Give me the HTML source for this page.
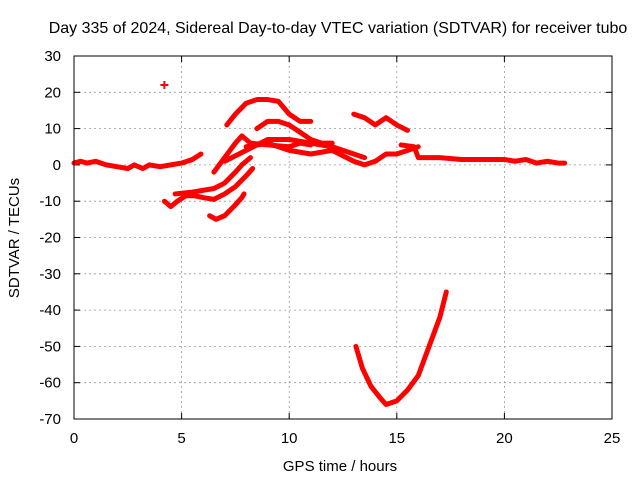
<!DOCTYPE html>
<html><head><meta charset="utf-8"><style>body{margin:0;background:#fff}svg{display:block}text{font-family:"Liberation Sans",sans-serif;font-size:15px;fill:#000}</style></head>
<body>
<svg id="chart" width="640" height="480" xmlns="http://www.w3.org/2000/svg">
<text x="338" y="33" text-anchor="middle" style="font-size:16px">Day 335 of 2024, Sidereal Day-to-day VTEC variation (SDTVAR) for receiver tubo</text>
<text x="340" y="471" text-anchor="middle">GPS time / hours</text>
<text transform="translate(19,238) rotate(-90)" text-anchor="middle">SDTVAR / TECUs</text>
<g id="grid"></g><g id="ticks"></g><g id="marks"></g>
<rect x="74" y="56" width="538" height="363" fill="none" stroke="#000"/>
</svg>
<script>
const xTicks=[0,5,10,15,20,25];
const yTicks=[30,20,10,0,-10,-20,-30,-40,-50,-60,-70];
const seg1=[[0,0.5],[0.3,1],[0.6,0.5],[1,1],[1.5,0],[2,-0.5],[2.5,-1],[2.8,0],[3.2,-1],[3.5,0],[4,-0.5],[4.5,0],[5,0.5],[5.5,1.5],[5.9,3]];
const seg2=[[4.2,-10],[4.5,-11.5],[4.8,-10],[5.2,-8.5],[5.6,-8.5],[6,-9],[6.5,-9.5],[7,-8],[7.5,-6],[8,-3],[8.3,-1]];
const seg3=[[4.7,-8],[5.5,-7.5],[6.5,-6.5],[7,-5],[7.5,-2],[7.8,0],[8.2,2]];
const seg4=[[6.3,-14],[6.6,-15],[7,-14],[7.5,-11],[7.8,-9],[7.9,-8]];
const seg5=[[6.5,-2],[7,2],[7.5,6],[7.8,8],[8.2,6],[9,5.5],[10,5],[10.5,6],[11,5.5]];
const seg6=[[7.1,11],[7.5,14],[8,17],[8.5,18],[9,18],[9.5,17.5],[10,14],[10.5,12],[11,12]];
const seg7=[[8.5,10],[9,12],[9.5,12],[10,11],[10.5,9],[11,7],[11.5,6],[12,6]];
const seg8=[[7,1],[8,4],[9,7],[10,7],[11,6],[12,5],[12.5,4],[13,3],[13.5,2]];
const seg9=[[8,5],[9,6],[10,4],[11,3],[12,4],[13,1],[13.5,0],[14,1],[14.5,3],[15,3],[15.5,4],[16,5]];
const seg10=[[13,14],[13.5,13],[14,11],[14.5,13],[15,11],[15.5,9.5]];
const seg11=[[15.2,5.5],[15.8,5],[16,2],[17,2],[18,1.5],[19,1.5],[20,1.5],[20.5,1],[21,1.5],[21.5,0.5],[22,1],[22.5,0.5],[22.8,0.5]];
const seg12=[[13.1,-50],[13.4,-56],[13.8,-61],[14.2,-64],[14.5,-66],[15,-65],[15.5,-62],[16,-58],[16.5,-50],[17,-42],[17.3,-35]];
const isolated=[[4.2,22]];
const series=[seg1,seg2,seg3,seg4,seg5,seg6,seg7,seg8,seg9,seg10,seg11,seg12];
const X=v=>74+v*538/25, Y=v=>56+(30-v)*363/100;
const NS="http://www.w3.org/2000/svg";
function mk(t,a,p){const e=document.createElementNS(NS,t);for(const k in a)e.setAttribute(k,a[k]);p.appendChild(e);return e;}
const grid=document.getElementById('grid'),ticks=document.getElementById('ticks'),marks=document.getElementById('marks');
xTicks.forEach(v=>{
 if(v>0&&v<25){const g=mk('line',{x1:X(v),x2:X(v),y1:56,y2:419,stroke:'#999','stroke-dasharray':'2,3','stroke-width':0.8},grid);
 
 }
 mk('line',{x1:X(v),x2:X(v),y1:419,y2:413,stroke:'#000'},ticks);mk('line',{x1:X(v),x2:X(v),y1:56,y2:62,stroke:'#000'},ticks);
 const t=mk('text',{x:X(v),y:443,'text-anchor':'middle'},ticks);t.textContent=v;
 
 
});
yTicks.forEach(v=>{
 if(v<30&&v>-70){const g=mk('line',{x1:74,x2:612,y1:Y(v),y2:Y(v),stroke:'#999','stroke-dasharray':'2,3','stroke-width':0.8},grid);
 
 }
 mk('line',{x1:74,x2:80,y1:Y(v),y2:Y(v),stroke:'#000'},ticks);mk('line',{x1:606,x2:612,y1:Y(v),y2:Y(v),stroke:'#000'},ticks);
 const t=mk('text',{x:61,y:Y(v)+5,'text-anchor':'end'},ticks);t.textContent=v;
 
 
});
series.forEach(s=>{
 const p=mk('polyline',{points:s.map(d=>X(d[0])+','+Y(d[1])).join(' '),fill:'none',stroke:'#f00','stroke-width':5,'stroke-linejoin':'round','stroke-linecap':'round'},marks);
 
 
});
isolated.forEach(d=>{
 const p=mk('path',{d:`M${X(d[0])-4},${Y(d[1])}h8M${X(d[0])},${Y(d[1])-4}v8`,stroke:'#f00','stroke-width':2},marks);
 
 
});
</script>
</body></html>
